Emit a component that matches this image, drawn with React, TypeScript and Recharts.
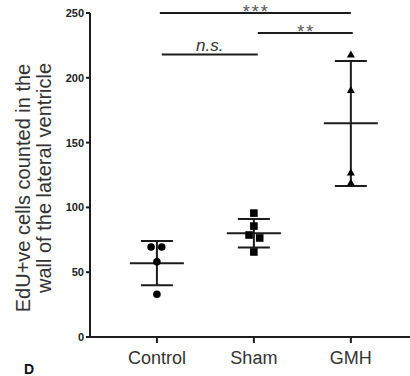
import React from "react";
import { ErrorBar, ReferenceLine, Scatter, ScatterChart, XAxis, YAxis } from "recharts";

const groups = ["Control", "Sham", "GMH"];
const groupPos = [1, 2, 3];

// individual animals (x holds the small horizontal jitter of the dots)
const controlX = [0.94, 1.05, 1, 1];
const controlY = [69.5, 69.5, 58, 33];
const shamX = [2, 2, 1.95, 2.06, 2];
const shamY = [95.6, 85.6, 78.7, 76.4, 65.6];
const gmhX = [3, 3, 3, 3];
const gmhY = [218, 190.5, 127, 119];

// mean +/- SD
const means = [57, 80, 165];
const sdLow = [17, 11, 48.5];
const sdHigh = [17, 11, 48];

const yTicks = [0, 50, 100, 150, 200, 250];

// significance brackets
const sigLabels = ["***", "**", "n.s."];
const sigFrom = [1.03, 2.04, 1.05];
const sigTo = [3, 3.02, 2.04];
const sigY = [250, 234.5, 218];

const INK = "#1c1c1c";
const TEXT = "#333";
const FONT = "Liberation Sans, Arial, sans-serif";

const toPts = (xs: number[], ys: number[]) => xs.map((x, i) => ({ x, y: ys[i] }));

const meanData = groupPos.map((x, i) => ({ x, y: means[i], err: [sdLow[i], sdHigh[i]] }));

const Dot = (p: any) => <circle cx={p.cx} cy={p.cy} r={3.8} fill="#000" />;
const Square = (p: any) => <rect x={p.cx - 3.8} y={p.cy - 3.8} width={7.6} height={7.6} fill="#000" />;
const Tri = (p: any) => (
  <path d={`M${p.cx},${p.cy - 4} L${p.cx + 4},${p.cy + 3} L${p.cx - 4},${p.cy + 3} Z`} fill="#000" />
);
const MeanBar = (p: any) => (
  <line x1={p.cx - 27} x2={p.cx + 27} y1={p.cy} y2={p.cy} stroke={INK} strokeWidth={2} />
);

const YLabel = () => (
  <g fill={TEXT} fontSize={20} fontFamily={FONT}>
    <text x={23} y={188} transform="rotate(-90 23 188)" textAnchor="middle" dominantBaseline="central">
      EdU+ve cells counted in the
    </text>
    <text x={44} y={178} transform="rotate(-90 44 178)" textAnchor="middle" dominantBaseline="central">
      wall of the lateral ventricle
    </text>
  </g>
);

const sigLabel = (text: string) => (props: any) => {
  const vb = props.viewBox || {};
  const cx = vb.x + (vb.width || 0) / 2;
  const y = vb.y;
  if (text === "n.s.") {
    return (
      <text x={cx} y={y - 3} textAnchor="middle" fill={TEXT} fontSize={17} fontStyle="italic" fontFamily={FONT}>
        {text}
      </text>
    );
  }
  return (
    <text x={cx + 1} y={y + 5} textAnchor="middle" fill="#555" fontSize={18} letterSpacing={2} fontFamily={FONT}>
      {text}
    </text>
  );
};

export default function App() {
  return (
    <div style={{ position: "absolute", left: 0, top: 0, width: 410, height: 376, background: "#fff", overflow: "hidden" }}>
      <ScatterChart width={410} height={376} margin={{ top: 13, right: 0, bottom: 0, left: 0 }}>
        <XAxis
          type="number"
          dataKey="x"
          domain={[0.31, 3.61]}
          ticks={groupPos}
          tickFormatter={(v: number) => groups[groupPos.indexOf(v)] ?? ""}
          height={39}
          tickSize={6}
          tickMargin={8}
          axisLine={{ stroke: INK, strokeWidth: 2 }}
          tickLine={{ stroke: INK, strokeWidth: 2 }}
          tick={{ fill: TEXT, fontSize: 18, fontFamily: FONT }}
          allowDataOverflow
        />
        <YAxis
          type="number"
          dataKey="y"
          domain={[0, 250]}
          ticks={yTicks}
          width={90}
          tickSize={4}
          tickMargin={2}
          axisLine={{ stroke: INK, strokeWidth: 2 }}
          tickLine={{ stroke: INK, strokeWidth: 2 }}
          tick={{ fill: "#222", fontSize: 11, fontWeight: "bold", fontFamily: FONT }}
          label={{ content: YLabel }}
        />
        {sigLabels.map((lab, i) => (
          <ReferenceLine
            key={lab}
            segment={[
              { x: sigFrom[i], y: sigY[i] },
              { x: sigTo[i], y: sigY[i] },
            ]}
            stroke={INK}
            strokeWidth={2}
            ifOverflow="visible"
            label={{ content: sigLabel(lab) }}
          />
        ))}
        <Scatter data={meanData} shape={MeanBar} isAnimationActive={false}>
          <ErrorBar dataKey="err" direction="y" width={16} stroke={INK} strokeWidth={2} />
        </Scatter>
        <Scatter data={toPts(controlX, controlY)} shape={Dot} isAnimationActive={false} />
        <Scatter data={toPts(shamX, shamY)} shape={Square} isAnimationActive={false} />
        <Scatter data={toPts(gmhX, gmhY)} shape={Tri} isAnimationActive={false} />
      </ScatterChart>
      <div
        style={{
          position: "absolute",
          left: 24,
          top: 362,
          fontSize: 14,
          lineHeight: "14px",
          fontWeight: "bold",
          fontFamily: FONT,
          color: "#111",
        }}
      >
        D
      </div>
    </div>
  );
}
